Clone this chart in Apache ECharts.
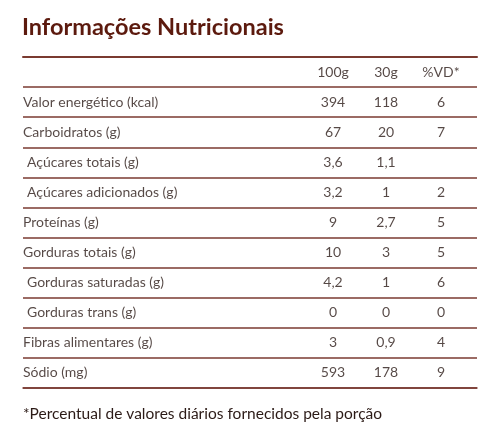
<!DOCTYPE html><html><head><meta charset="utf-8"><script src="https://cdn.jsdelivr.net/npm/echarts@6/dist/echarts.min.js"></script></head><body style="margin:0"><div id="c" style="width:500px;height:445px"></div><script>
const title = 'Informações Nutricionais';
const columns = ['100g', '30g', '%VD*'];
const nutrients = ['Valor energético (kcal)', 'Carboidratos (g)', 'Açúcares totais (g)', 'Açúcares adicionados (g)', 'Proteínas (g)', 'Gorduras totais (g)', 'Gorduras saturadas (g)', 'Gorduras trans (g)', 'Fibras alimentares (g)', 'Sódio (mg)'];
const indented = [false, false, true, true, false, false, true, true, false, false];
const per100g = ['394', '67', '3,6', '3,2', '9', '10', '4,2', '0', '3', '593'];
const per30g = ['118', '20', '1,1', '1', '2,7', '3', '1', '0', '0,9', '178'];
const vd = ['6', '7', '', '2', '5', '5', '6', '0', '4', '9'];
const footnote = '*Percentual de valores diários fornecidos pela porção';

const colX = [333, 386, 441];
const rows = ['h'].concat(nutrients.map((_, i) => 'r' + i));
const textColor = '#2b1a16', brown = '#5c1a0e', lineC = '#7a3a30';
const pts = [];
columns.forEach((c, j) => pts.push({value: [colX[j], 'h', c], label: {align: 'center'}}));
nutrients.forEach((n, i) => {
  pts.push({value: [indented[i] ? 27 : 23, 'r' + i, n], label: {align: 'left'}});
  [per100g, per30g, vd].forEach((arr, j) => pts.push({value: [colX[j], 'r' + i, arr[i]], label: {align: 'center'}}));
});
const font = 'Lato';
echarts.init(document.getElementById('c')).setOption({
  animation: false,
  title: [{text: title, left: 17, top: 10, textStyle: {fontFamily: font, fontSize: 23.5, fontWeight: 'bold', color: brown}},
          {text: footnote, left: 18, top: 401, textStyle: {fontFamily: font, fontSize: 15.5, fontWeight: 'normal', color: textColor}}],
  grid: {left: 23, right: 23, top: 57, height: 331},
  xAxis: [
    {type: 'value', min: 23, max: 477, position: 'top', axisLine: {show: true, lineStyle: {color: lineC, width: 2}}, axisLabel: {show: false}, axisTick: {show: false}, splitLine: {show: false}},
    {type: 'value', min: 23, max: 477, position: 'bottom', axisLine: {show: true, lineStyle: {color: lineC, width: 1.5}}, axisLabel: {show: false}, axisTick: {show: false}, splitLine: {show: false}}
  ],
  yAxis: {type: 'category', data: rows, inverse: true, axisLine: {show: false}, axisTick: {show: false}, axisLabel: {show: false},
    splitLine: {show: true, lineStyle: {color: lineC, width: 1.5}}},
  series: [{type: 'scatter', symbolSize: 0, data: pts,
    label: {show: true, position: 'inside', formatter: p => p.value[2], fontFamily: font, fontSize: 14, color: textColor, verticalAlign: 'middle'}}]
});
</script></body></html>
